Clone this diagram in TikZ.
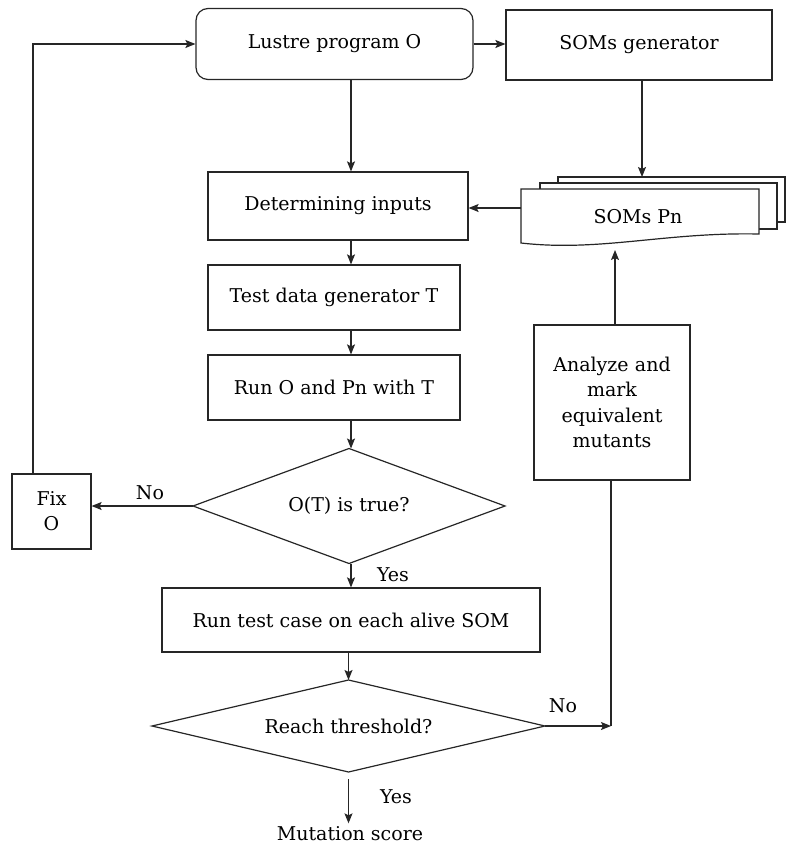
\documentclass[tikz,border=0pt]{standalone}
\usepackage{fontspec}
\setmainfont{DejaVu Serif}
\usetikzlibrary{arrows.meta,shapes.geometric,calc}
\begin{document}
\begin{tikzpicture}[x=1pt,y=-1pt,
  every node/.style={font=\fontsize{19}{23}\selectfont, text=black},
  ln/.style={draw=black!85, line width=1.2pt},
  arr/.style={ln, -{Stealth[length=10pt,width=8pt,inset=2pt]}},
  box/.style={ln, rectangle, inner sep=2pt, align=center},
  lbl/.style={inner sep=1pt}
]
\useasboundingbox (0,0) rectangle (788,848);

% nodes
\node[box, rounded corners=12pt, minimum width=277pt, minimum height=71pt] (lustre) at (334.5,44) {Lustre program O};
\node[box, minimum width=266pt, minimum height=70pt] (gen) at (639,45) {SOMs generator};
\node[box, minimum width=260pt, minimum height=68pt] (det) at (338,206) {Determining inputs};
\node[box, minimum width=252pt, minimum height=65pt] (tdg) at (334,297.5) {Test data generator T};
\node[box, minimum width=252pt, minimum height=65pt] (run) at (334,387.5) {Run O and Pn with T};
\path[ln] (193,506) coordinate (d1w) -- (349,448.5) coordinate (d1n) -- (505,506) coordinate (d1e) -- (349,563.5) coordinate (d1s) -- cycle;
\node (d1) at (349,506) {O(T) is true?};
\node[box, minimum width=79pt, minimum height=75pt, font=\fontsize{19}{25}\selectfont] (fix) at (51.5,511.5) {Fix\\O};
\node[box, minimum width=378pt, minimum height=64pt] (rtc) at (351,620) {Run test case on each alive SOM};
\path[ln] (152,726) coordinate (d2w) -- (348.5,680) coordinate (d2n) -- (545,726) coordinate (d2e) -- (348.5,772) coordinate (d2s) -- cycle;
\node (d2) at (348.5,726) {Reach threshold?};
\node[box, minimum width=156pt, minimum height=155pt, text width=150pt, font=\fontsize{19}{25.5}\selectfont] (an) at (612,402.5) {Analyze and\\mark\\equivalent\\mutants};
\node (ms) at (350,834) {Mutation score};

% SOMs Pn multi-document
\path[ln, fill=white] (558,177) rectangle (785,222);
\path[ln, fill=white] (540,183) rectangle (777,229);
\path[ln, fill=white] (521,189) -- (759,189) -- (759,234)
   .. controls (665,232) and (600,252) .. (521,243) -- cycle;
\node (pn) at (638,217) {SOMs Pn};
\coordinate (pntop) at (642,177);
\coordinate (pnleft) at (521,208);
\coordinate (pnbot) at (615,250);

% helper coordinates
\coordinate (cx) at (351,0);
\coordinate (loop) at (33,44);
\coordinate (noend) at (611,726);

% connectors
\draw[arr] (fix.north -| loop) |- (lustre.west);
\draw[arr] (lustre.east) -- (lustre.east -| gen.west);
\draw[arr] (gen.south -| pntop) -- (pntop);
\draw[arr] (pnleft) -- (det.east |- pnleft);
\draw[arr] (lustre.south -| cx) -- (det.north -| cx);
\draw[arr] (det.south -| cx) -- (tdg.north -| cx);
\draw[arr] (tdg.south -| cx) -- (run.north -| cx);
\draw[arr] (run.south -| cx) -- (d1n -| cx);
\draw[arr] (d1w) -- (fix.east |- d1w);
\node[lbl] (no1) at (150,493) {No};
\draw[arr] (d1s -| cx) -- (rtc.north -| cx);
\node[lbl] (yes1) at (393,575) {Yes};
\draw[arr] (rtc.south -| d2n) -- (d2n);
\draw[arr] ($(d2s)+(0,7)$) -- (ms.north -| d2s);
\node[lbl] (yes2) at (396,797) {Yes};
\draw[arr] (d2e) -- (noend);
\node[lbl] (no2) at (563,706) {No};
\draw[ln] (noend) -- (noend |- an.south);
\draw[arr] (an.north -| pnbot) -- (pnbot);
\end{tikzpicture}
\end{document}
